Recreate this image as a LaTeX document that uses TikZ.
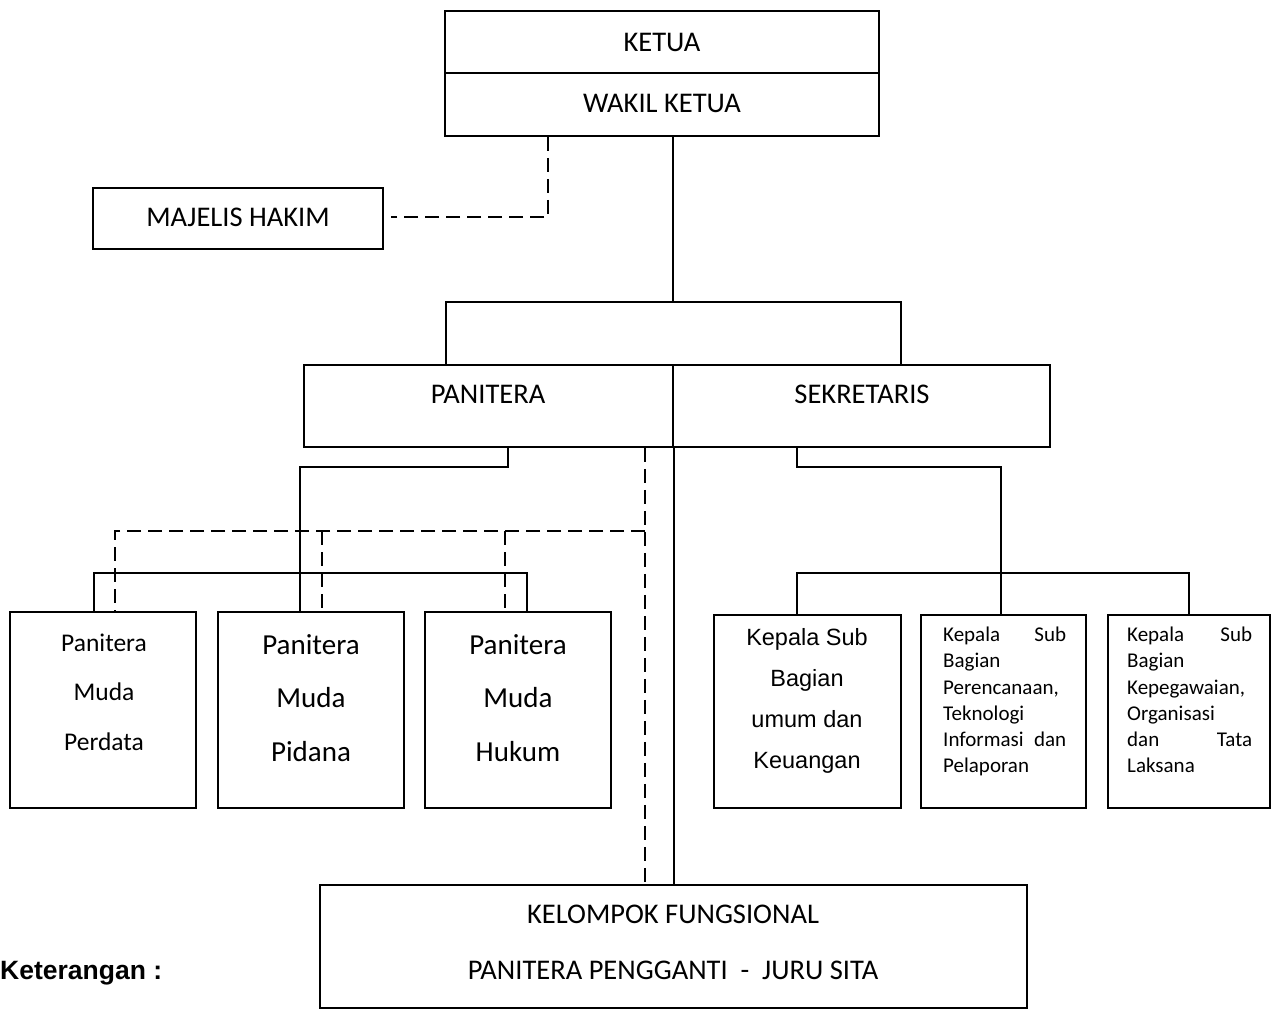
\documentclass[tikz,border=0pt]{standalone}
\usepackage{fontspec}
\setmainfont{Carlito}
\newfontfamily\arialf{Liberation Sans}
\begin{document}
\begin{tikzpicture}[x=1pt,y=-1pt,
  box/.style={draw,line width=1.6pt,rectangle,inner sep=0pt},
  conn/.style={line width=1.6pt},
  dsh/.style={line width=1.6pt,dash pattern=on 14pt off 7pt},
  big/.style={font=\fontsize{28.5}{33}\selectfont},
  lbl/.style={inner sep=0pt,align=center}]
\useasboundingbox (0,0) rectangle (1279,1011);
% boxes
\node[box,minimum width=434pt,minimum height=62pt] (ketua) at (662,42) {};
\node[box,minimum width=434pt,minimum height=63pt] (wakil) at (662,104.5) {};
\node[box,minimum width=290pt,minimum height=61pt] (majelis) at (238,218.5) {};
\node[box,minimum width=369pt,minimum height=82pt] (panitera) at (488.5,406) {};
\node[box,minimum width=377pt,minimum height=82pt] (sekretaris) at (861.5,406) {};
\node[box,minimum width=186pt,minimum height=196pt] (pmper) at (103,710) {};
\node[box,minimum width=186pt,minimum height=196pt] (pmpid) at (311,710) {};
\node[box,minimum width=186pt,minimum height=196pt] (pmhuk) at (518,710) {};
\node[box,minimum width=187pt,minimum height=193pt] (kasub1) at (807.5,711.5) {};
\node[box,minimum width=165pt,minimum height=193pt] (kasub2) at (1003.5,711.5) {};
\node[box,minimum width=162pt,minimum height=193pt] (kasub3) at (1189,711.5) {};
\node[box,minimum width=707pt,minimum height=123pt] (kelompok) at (673.5,946.5) {};
% texts
\node[lbl,big] (tketua) at (662,42) {KETUA};
\node[lbl,big] (twakil) at (662,103) {WAKIL KETUA};
\node[lbl,big] (tmaj) at (238,217) {MAJELIS HAKIM};
\node[lbl,big] (tpan) at (488,394) {PANITERA};
\node[lbl,big] (tsek) at (862,394) {SEKRETARIS};
\node[lbl,font=\fontsize{25.5}{49.5}\selectfont] (tper) at (104,692) {Panitera\\Muda\\Perdata};
\node[lbl,font=\fontsize{29}{53.5}\selectfont] (tpid) at (311,698) {Panitera\\Muda\\Pidana};
\node[lbl,font=\fontsize{29}{53.5}\selectfont] (thuk) at (518,698) {Panitera\\Muda\\Hukum};
\node[lbl,font=\arialf\fontsize{23.5}{41}\selectfont] (tk1) at (807,701) {Kepala Sub\\Bagian\\umum dan\\Keuangan};
\node[lbl,anchor=north west,text width=123pt,align=left,font=\fontsize{21}{26.2}\selectfont] (tk2) at (943,627)
  {Kepala\hfill Sub\\Bagian\\Perencanaan,\\Teknologi\\Informasi\hfill dan\\Pelaporan};
\node[lbl,anchor=north west,text width=125pt,align=left,font=\fontsize{21}{26.2}\selectfont] (tk3) at (1127,627)
  {Kepala\hfill Sub\\Bagian\\Kepegawaian,\\Organisasi\\dan\hfill Tata\\Laksana};
\node[lbl,big] (tkel1) at (673,914) {KELOMPOK FUNGSIONAL};
\node[lbl,big] (tkel2) at (673,970) {PANITERA PENGGANTI\ \ -\ \ JURU SITA};
\node[lbl,anchor=west,font=\arialf\bfseries\fontsize{26.5}{30}\selectfont] (ket) at (0,973) {Keterangan :};
% connectors
\coordinate (j1) at (673,302);
\coordinate (bl) at (446,302);
\coordinate (br) at (901,302);
\coordinate (mj) at (548,217);
\draw[conn] (wakil.south -| j1) -- (j1);
\draw[conn] (panitera.north -| bl) -- (bl) -- (br) -- (sekretaris.north -| br);
\draw[dsh] (wakil.south -| mj) -- (mj) -- ([xshift=7pt]majelis.east |- mj);
\draw[conn] (panitera.south east) -- (kelompok.north -| panitera.south east);
\coordinate (dv) at (645,531);
\draw[dsh] (panitera.south -| dv) -- (kelompok.north -| dv);
\draw[dsh] (dv) -- (115,531) -- (pmper.north -| 115,0);
\draw[dsh] (322,531) -- (pmpid.north -| 322,0);
\draw[dsh] (505,531) -- (pmhuk.north -| 505,0);
\coordinate (pj) at (300,467);
\draw[conn] (panitera.south -| 508,0) -- (508,467) -- (pj) -- (pmpid.north -| pj);
\draw[conn] (pmper.north -| 94,0) -- (94,573) -- (527,573) -- (pmhuk.north -| 527,0);
\coordinate (sj) at (1001,573);
\draw[conn] (sekretaris.south -| 797,0) -- (797,467) -- (1001,467) -- (sj);
\draw[conn] (kasub1.north -| 797,0) -- (797,573) -- (1189,573) -- (kasub3.north -| 1189,0);
\draw[conn] (sj) -- (kasub2.north -| sj);
\end{tikzpicture}
\end{document}
